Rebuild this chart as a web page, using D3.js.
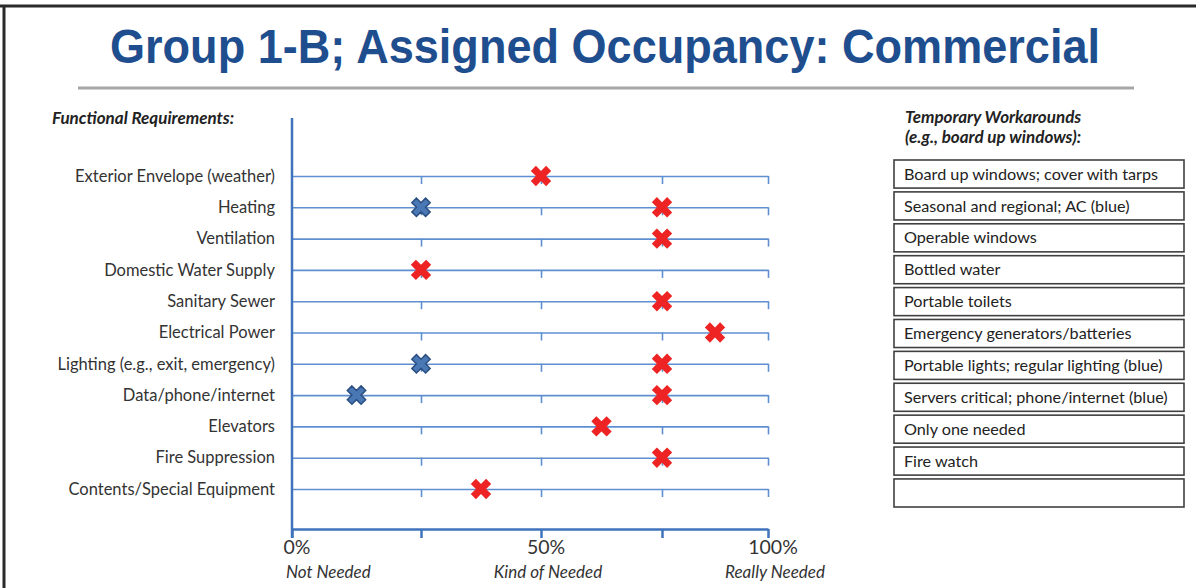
<!DOCTYPE html>
<html>
<head>
<meta charset="utf-8">
<script src="https://cdn.jsdelivr.net/npm/d3@7/dist/d3.min.js"></script>
<style>
  html, body { margin: 0; padding: 0; background: #fff; }
  svg { display: block; }
</style>
</head>
<body>
<svg id="chart" width="1196" height="588"></svg>
<script>
// ---- data ----
const title = "Group 1-B; Assigned Occupancy: Commercial";
const categories = [
  "Exterior Envelope (weather)",
  "Heating",
  "Ventilation",
  "Domestic Water Supply",
  "Sanitary Sewer",
  "Electrical Power",
  "Lighting (e.g., exit, emergency)",
  "Data/phone/internet",
  "Elevators",
  "Fire Suppression",
  "Contents/Special Equipment"
];
// red markers (percent needed)
const redValues = [50, 75, 75, 25, 75, 87.5, 75, 75, 62.5, 75, 37.5];
// blue markers (secondary rating), null where absent
const blueValues = [null, 25, null, null, null, null, 25, 12.5, null, null, null];
const workarounds = [
  "Board up windows; cover with tarps",
  "Seasonal and regional; AC (blue)",
  "Operable windows",
  "Bottled water",
  "Portable toilets",
  "Emergency generators/batteries",
  "Portable lights; regular lighting (blue)",
  "Servers critical; phone/internet (blue)",
  "Only one needed",
  "Fire watch",
  ""
];
const rowTicks = [25, 50, 75, 100];
const axisTicks = [0, 25, 50, 75, 100];
const tickLabelValues = [0, 50, 100];
const tickLabels = ["0%", "50%", "100%"];
const tickSubLabels = ["Not Needed", "Kind of Needed", "Really Needed"];

// ---- drawing ----
const svg = d3.select("#chart");
const labelFont = "Lato, 'Open Sans', sans-serif";

// frame
svg.append("line").attr("x1", 0).attr("x2", 1196).attr("y1", 6).attr("y2", 6)
  .attr("stroke", "#2a2a2a").attr("stroke-width", 3);
svg.append("line").attr("x1", 4).attr("x2", 4).attr("y1", 5).attr("y2", 588)
  .attr("stroke", "#2a2a2a").attr("stroke-width", 3);

// title
svg.append("text").attr("x", 110).attr("y", 63)
  .attr("textLength", 990).attr("lengthAdjust", "spacingAndGlyphs")
  .style("font-family", "'Liberation Sans', Arial, sans-serif")
  .style("font-weight", "bold").style("font-size", "48px")
  .attr("fill", "#1f4e8f").text(title);
svg.append("line").attr("x1", 78).attr("x2", 1134).attr("y1", 88).attr("y2", 88)
  .attr("stroke", "#a6a6a6").attr("stroke-width", 3);

// scales
const x = d3.scaleLinear().domain([0, 25, 50, 75, 100]).range([292, 421, 541, 662, 768]);
const y = d3.scalePoint().domain(categories).range([176, 489]);

// section headers
svg.append("text").attr("x", 52).attr("y", 124)
  .style("font-family", labelFont).style("font-weight", "bold").style("font-style", "italic")
  .style("font-size", "17px").attr("fill", "#222").text("Functional Requirements:");

const rh = svg.append("text").attr("x", 905).attr("y", 123)
  .style("font-family", labelFont).style("font-weight", "bold").style("font-style", "italic")
  .style("font-size", "17px").attr("fill", "#222");
rh.append("tspan").attr("x", 905).attr("dy", 0).text("Temporary Workarounds");
rh.append("tspan").attr("x", 905).attr("dy", 20).text("(e.g., board up windows):");

// row lines with ticks
const rowColor = "#5f8fd0";
categories.forEach(c => {
  const g = svg.append("g").attr("transform", `translate(0,${y(c)})`);
  const ax = d3.axisBottom(x).tickValues(rowTicks).tickSize(8).tickFormat("").tickSizeOuter(0);
  g.call(ax);
  g.select(".domain").attr("stroke", rowColor).attr("stroke-width", 1.6);
  g.selectAll(".tick line").attr("stroke", rowColor).attr("stroke-width", 1.6);
});

// bottom axis
const axisColor = "#3f73bd";
const bottom = svg.append("g").attr("transform", "translate(0,529)")
  .call(d3.axisBottom(x).tickValues(axisTicks).tickSize(9).tickFormat("").tickSizeOuter(0));
bottom.select(".domain").attr("stroke", axisColor).attr("stroke-width", 2.5);
bottom.selectAll(".tick line").attr("stroke", axisColor).attr("stroke-width", 2.5);

// vertical axis
svg.append("line").attr("x1", x(0)).attr("x2", x(0)).attr("y1", 118).attr("y2", 538)
  .attr("stroke", axisColor).attr("stroke-width", 2.5);

// tick labels
svg.selectAll("text.tl").data(tickLabelValues).join("text").attr("class", "tl")
  .attr("x", (d) => x(d) + 5).attr("y", 554).attr("text-anchor", "middle")
  .style("font-family", labelFont).style("font-size", "19.5px").attr("fill", "#333")
  .text((d, i) => tickLabels[i]);
svg.selectAll("text.tsl").data(tickLabelValues).join("text").attr("class", "tsl")
  .attr("x", (d, i) => i === 0 ? x(d) - 6 : x(d) + 7).attr("y", 578)
  .attr("text-anchor", (d, i) => i === 0 ? "start" : "middle")
  .style("font-family", labelFont).style("font-style", "italic").style("font-size", "17px")
  .attr("fill", "#333").text((d, i) => tickSubLabels[i]);

// category labels
svg.selectAll("text.cat").data(categories).join("text").attr("class", "cat")
  .attr("x", 275).attr("y", (d) => y(d)).attr("dy", "0.35em").attr("text-anchor", "end")
  .style("font-family", labelFont).style("font-size", "16.5px").attr("fill", "#333")
  .text((d) => d);

// markers
const xSym = d3.symbol().type(d3.symbolCross).size(260);
svg.selectAll("path.red").data(categories.map((c, i) => ({ c, v: redValues[i] })))
  .join("path").attr("class", "red")
  .attr("d", xSym)
  .attr("transform", (d) => `translate(${x(d.v)},${y(d.c)}) rotate(45)`)
  .attr("fill", "#ee2424");
svg.selectAll("path.blue").data(categories.map((c, i) => ({ c, v: blueValues[i] })).filter(d => d.v != null))
  .join("path").attr("class", "blue")
  .attr("d", d3.symbol().type(d3.symbolCross).size(210))
  .attr("transform", (d) => `translate(${x(d.v)},${y(d.c)}) rotate(45)`)
  .attr("fill", "#4a78b4").attr("stroke", "#2b4f82").attr("stroke-width", 1.5);

// workaround boxes
const by = d3.scaleBand().domain(d3.range(workarounds.length)).range([160, 507]).paddingInner(0.12).paddingOuter(0);
const boxes = svg.selectAll("g.box").data(workarounds).join("g").attr("class", "box")
  .attr("transform", (d, i) => `translate(894,${by(i)})`);
boxes.append("rect").attr("width", 290).attr("height", by.bandwidth())
  .attr("fill", "#fff").attr("stroke", "#404040").attr("stroke-width", 1.6);
boxes.append("text").attr("x", 10).attr("y", by.bandwidth() / 2).attr("dy", "0.35em")
  .style("font-family", labelFont).style("font-size", "16.2px").attr("fill", "#222")
  .text((d) => d);
</script>
</body>
</html>
